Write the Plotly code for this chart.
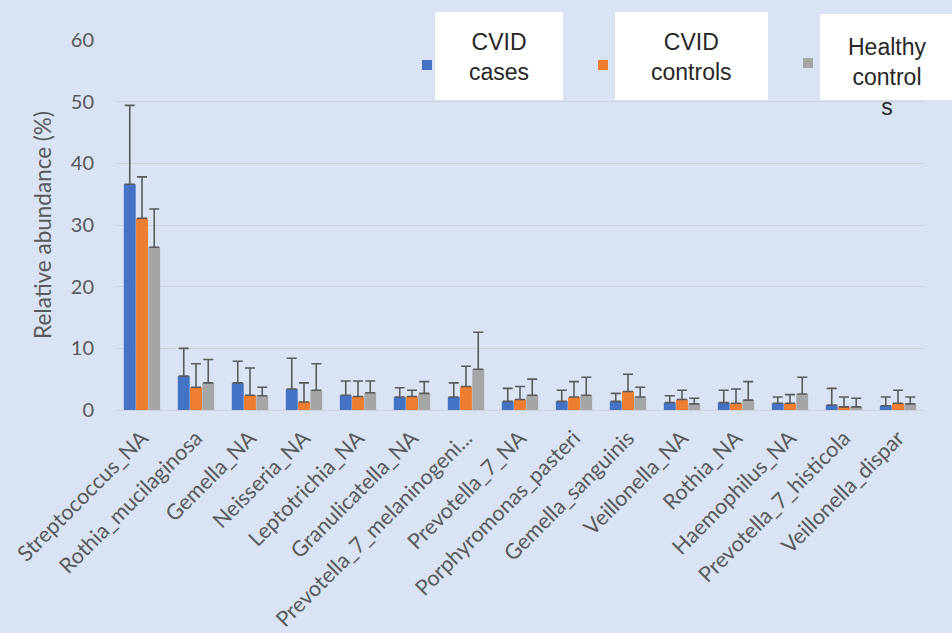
import plotly.graph_objects as go

categories = ["Streptococcus_NA", "Rothia_mucilaginosa", "Gemella_NA", "Neisseria_NA",
              "Leptotrichia_NA", "Granulicatella_NA", "Prevotella_7_melaninogeni...",
              "Prevotella_7_NA", "Porphyromonas_pasteri", "Gemella_sanguinis",
              "Veillonella_NA", "Rothia_NA", "Haemophilus_NA", "Prevotella_7_histicola",
              "Veillonella_dispar"]

cvid_cases = [36.6, 5.5, 4.4, 3.4, 2.4, 2.1, 2.1, 1.4, 1.4, 1.4, 1.2, 1.2, 1.1, 0.8, 0.7]
cvid_cases_upper = [49.4, 10.0, 7.9, 8.4, 4.7, 3.6, 4.4, 3.5, 3.2, 2.7, 2.3, 3.2, 2.1, 3.5, 2.1]

cvid_controls = [31.1, 3.7, 2.4, 1.3, 2.2, 2.2, 3.8, 1.7, 2.1, 3.0, 1.7, 1.1, 1.1, 0.5, 1.1]
cvid_controls_upper = [37.8, 7.5, 6.8, 4.4, 4.7, 3.2, 7.1, 3.8, 4.6, 5.8, 3.2, 3.4, 2.5, 2.1, 3.2]

healthy = [26.4, 4.4, 2.3, 3.2, 2.8, 2.7, 6.6, 2.4, 2.4, 2.1, 1.0, 1.6, 2.6, 0.5, 1.0]
healthy_upper = [32.6, 8.2, 3.7, 7.5, 4.7, 4.6, 12.6, 5.0, 5.3, 3.7, 1.9, 4.6, 5.3, 1.9, 2.1]

series_names = ["CVID cases", "CVID controls", "Healthy controls"]
series_colors = ["#4472c4", "#ed7d31", "#a5a5a5"]

W, H = 952, 633
L, R, T, B = 115, 27, 40, 223

fig = go.Figure()
for name, vals, upper, col in zip(series_names,
                                  [cvid_cases, cvid_controls, healthy],
                                  [cvid_cases_upper, cvid_controls_upper, healthy_upper],
                                  series_colors):
    fig.add_trace(go.Bar(
        x=categories, y=vals, name=name, marker_color=col,
        marker_line_width=0,
        error_y=dict(type="data", symmetric=False,
                     array=[u - v for u, v in zip(upper, vals)],
                     arrayminus=[0] * len(vals),
                     color="#5a5a5a", thickness=1.6, width=5),
    ))

def px(xpix):
    return (xpix - L) / (W - L - R)

def py(ypix):
    return (H - B - ypix) / (H - T - B)

shapes = []
annotations = []
# legend boxes (white) and colour keys
boxes = [(435, 563, 12, 100), (615, 768, 12, 100), (820, 960, 14, 100)]
for (x0, x1, y0, y1) in boxes:
    shapes.append(dict(type="rect", xref="paper", yref="paper",
                       x0=px(x0), x1=px(x1), y0=py(y1), y1=py(y0),
                       fillcolor="white", line_width=0, layer="above"))
keys = [(427, 65), (603, 65), (808, 63)]
for (kx, ky), col in zip(keys, series_colors):
    shapes.append(dict(type="rect", xref="paper", yref="paper",
                       x0=px(kx - 5), x1=px(kx + 5), y0=py(ky + 5), y1=py(ky - 5),
                       fillcolor=col, line_width=0, layer="above"))

legend_texts = ["CVID<br>cases", "CVID<br>controls", "Healthy<br>control<br>s"]
legend_pos = [(499, 57), (691, 57), (887, 77)]
for txt, (tx, ty) in zip(legend_texts, legend_pos):
    annotations.append(dict(text=txt, xref="paper", yref="paper",
                            x=px(tx), y=py(ty), xanchor="center", yanchor="middle",
                            showarrow=False,
                            font=dict(family="Liberation Sans, Arial, sans-serif",
                                      size=23, color="#262626")))

fig.update_layout(
    width=W, height=H,
    margin=dict(l=L, r=R, t=T, b=B, autoexpand=False),
    paper_bgcolor="#dae3f3", plot_bgcolor="#dae3f3",
    barmode="group", bargap=0.32, bargroupgap=0.03,
    showlegend=False,
    shapes=shapes, annotations=annotations,
    font=dict(family="Lato, Carlito, sans-serif", color="#595959"),
    xaxis=dict(tickangle=-45, tickfont=dict(size=21.5, color="#595959"),
               showline=True, linecolor="#cfd2d6", linewidth=1, ticks="",
               showgrid=False, ticklabelstandoff=6),
    yaxis=dict(range=[0, 60], dtick=10, tickfont=dict(size=20, color="#595959"),
               showgrid=True, gridcolor="#cfd2d6", gridwidth=1,
               zeroline=False, ticks="", ticklabelstandoff=20,
               title=dict(text="Relative abundance (%)",
                          font=dict(size=22.5, color="#595959"), standoff=12)),
)

fig.write_html("out.html",
               config={"displayModeBar": False},
               post_script="document.body.style.margin='0';document.body.style.overflow='hidden';")
